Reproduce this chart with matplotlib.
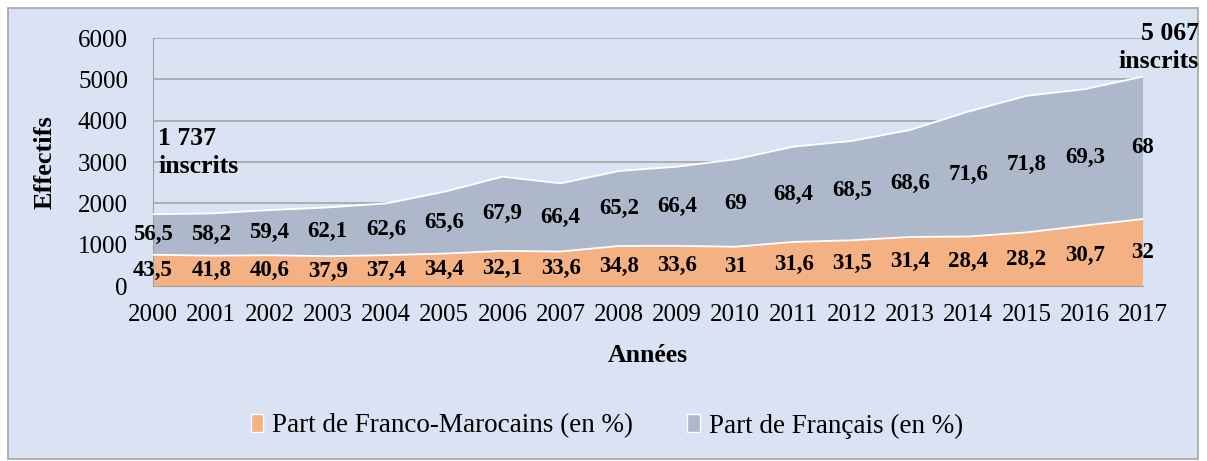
import matplotlib
matplotlib.use("Agg")
import matplotlib.pyplot as plt
from matplotlib.patches import Rectangle
import numpy as np

years = list(range(2000, 2018))
fm_counts = [756, 734, 745, 720, 747, 784, 849, 834, 968, 970, 950, 1066, 1106, 1186, 1198, 1297, 1462, 1621]
fr_counts = [981, 1022, 1091, 1181, 1251, 1496, 1795, 1649, 1814, 1917, 2115, 2306, 2404, 2590, 3022, 3304, 3301, 3446]
fm_pct = ["43,5", "41,8", "40,6", "37,9", "37,4", "34,4", "32,1", "33,6", "34,8", "33,6", "31", "31,6", "31,5", "31,4", "28,4", "28,2", "30,7", "32"]
fr_pct = ["56,5", "58,2", "59,4", "62,1", "62,6", "65,6", "67,9", "66,4", "65,2", "66,4", "69", "68,4", "68,5", "68,6", "71,6", "71,8", "69,3", "68"]
series_names = ["Part de Franco-Marocains (en %)", "Part de Français (en %)"]
yticks = [0, 1000, 2000, 3000, 4000, 5000, 6000]

BG = "#DAE3F3"
ORANGE = "#F4B183"
GRAY = "#ADB9CA"
GRID = "#A0A0A0"
FONT = "Liberation Serif"

W, H = 1207, 461
fig = plt.figure(figsize=(W / 100, H / 100), dpi=100)
fig.patch.set_facecolor("white")
fig.patches.append(Rectangle((8 / W, 2 / H), 1190 / W, 451 / H, transform=fig.transFigure,
                             facecolor=BG, edgecolor="#A6A6A6", linewidth=1.2, zorder=-10))

ax = fig.add_axes([153 / W, (H - 286) / H, 990 / W, 248 / H])
ax.set_facecolor("none")
ax.set_zorder(1)

fm = np.array(fm_counts)
fr = np.array(fr_counts)
ax.fill_between(years, 0, fm, facecolor=ORANGE, edgecolor="none", zorder=2, label=series_names[0])
ax.fill_between(years, fm, fm + fr, facecolor=GRAY, edgecolor="none", zorder=2, label=series_names[1])
ax.plot(years, fm, color="white", lw=1.3, zorder=3)
ax.plot(years, fm + fr, color="white", lw=1.3, zorder=3)

for i, yr in enumerate(years):
    ax.text(yr, fm[i] / 2, fm_pct[i], ha="center", va="center", fontsize=16.5,
            fontweight="bold", family=FONT, zorder=4)
    ax.text(yr, fm[i] + fr[i] / 2, fr_pct[i], ha="center", va="center", fontsize=16.5,
            fontweight="bold", family=FONT, zorder=4)

ax.set_xlim(years[0], years[-1])
ax.set_ylim(0, 6000)
ax.set_yticks(yticks)
ax.set_yticklabels([str(v) for v in yticks], family=FONT, fontsize=18)
ax.set_xticks(years)
ax.set_xticklabels([str(y) for y in years], family=FONT, fontsize=18)
ax.tick_params(axis="x", length=0, pad=13)
ax.tick_params(axis="y", length=0, pad=18)
ax.grid(axis="y", color=GRID, lw=1.1, zorder=1)
ax.set_axisbelow(True)
for s in ["top", "right"]:
    ax.spines[s].set_visible(False)
ax.spines["left"].set_color(GRID)
ax.spines["bottom"].set_color(GRID)

ax.set_ylabel("Effectifs", family=FONT, fontsize=19, fontweight="bold")
ax.yaxis.set_label_coords((57 - 153) / 990, (286 - 162) / 248)
ax.set_xlabel("Années", family=FONT, fontsize=18.5, fontweight="bold", labelpad=13)

fig.text(158 / W, 1 - 127 / H, "1 737\ninscrits", ha="left", va="top", family=FONT,
         fontsize=18.5, fontweight="bold", linespacing=1.3)
fig.text(1199 / W, 1 - 22 / H, "5 067\ninscrits", ha="right", va="top", family=FONT,
         fontsize=18.5, fontweight="bold", linespacing=1.3)

leg = fig.legend(loc="center", bbox_to_anchor=(607 / W, 1 - 426 / H), ncol=2, frameon=False,
                 prop={"family": FONT, "size": 19.5}, handlelength=0.45, handleheight=0.6,
                 handletextpad=0.35, columnspacing=2.0)
for h in leg.legend_handles:
    h.set_edgecolor("white")

fig.savefig("out.png", dpi=100, facecolor=fig.get_facecolor())
